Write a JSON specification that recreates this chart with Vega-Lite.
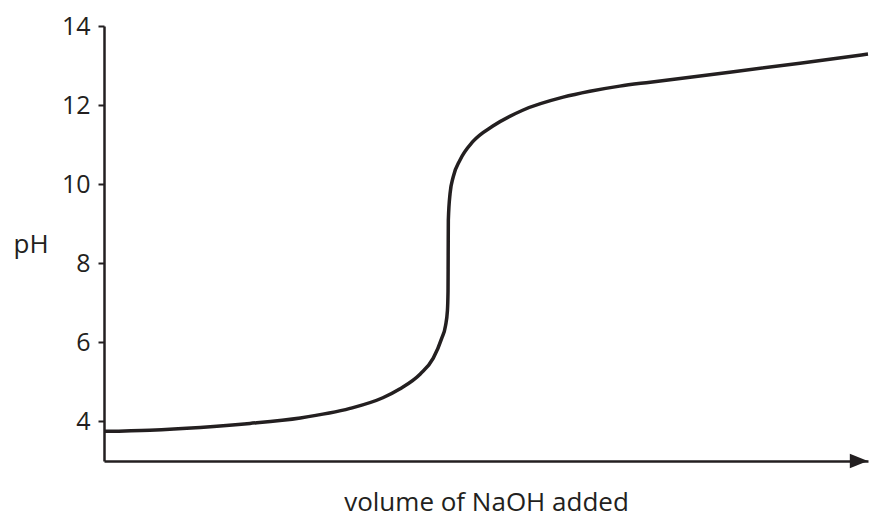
{
  "$schema": "https://vega.github.io/schema/vega-lite/v6.json",
  "width": 764,
  "height": 435,
  "autosize": {"type": "none"},
  "padding": {"left": 104, "top": 26, "right": 2, "bottom": 57},
  "background": "white",
  "config": {
    "view": {"stroke": null},
    "font": "Open Sans",
    "axis": {
      "grid": false,
      "domainColor": "#231f20",
      "domainWidth": 2.5,
      "tickColor": "#231f20",
      "tickWidth": 2,
      "labelColor": "#231f20",
      "titleColor": "#231f20",
      "labelFont": "Open Sans",
      "titleFont": "Open Sans",
      "labelFontSize": 25,
      "titleFontSize": 26,
      "titleFontWeight": "normal"
    }
  },
  "datasets": {
    "curve": [
      {"volume": 0.1, "pH": 3.75},
      {"volume": 6.0, "pH": 3.78},
      {"volume": 12.6, "pH": 3.85},
      {"volume": 19.1, "pH": 3.95},
      {"volume": 25.7, "pH": 4.09},
      {"volume": 32.2, "pH": 4.33},
      {"volume": 36.5, "pH": 4.6},
      {"volume": 38.7, "pH": 4.82},
      {"volume": 41.4, "pH": 5.2},
      {"volume": 43.1, "pH": 5.6},
      {"volume": 44.2, "pH": 6.1},
      {"volume": 44.7, "pH": 6.42},
      {"volume": 44.95, "pH": 6.8},
      {"volume": 45.03, "pH": 7.3},
      {"volume": 45.05, "pH": 8.2},
      {"volume": 45.07, "pH": 9.09},
      {"volume": 45.3, "pH": 9.77},
      {"volume": 45.7, "pH": 10.18},
      {"volume": 46.6, "pH": 10.61},
      {"volume": 48.3, "pH": 11.08},
      {"volume": 50.9, "pH": 11.47},
      {"volume": 54.8, "pH": 11.87},
      {"volume": 60.1, "pH": 12.2},
      {"volume": 63.6, "pH": 12.35},
      {"volume": 67.5, "pH": 12.48},
      {"volume": 71.5, "pH": 12.58},
      {"volume": 81.9, "pH": 12.83},
      {"volume": 91.1, "pH": 13.06},
      {"volume": 100, "pH": 13.29}
    ],
    "arrow": [{"volume": 98.8, "pH": 3}]
  },
  "layer": [
    {
      "data": {"name": "curve"},
      "mark": {"type": "line", "interpolate": "monotone", "color": "#231f20", "strokeWidth": 3.5, "clip": false},
      "encoding": {
        "x": {
          "field": "volume",
          "type": "quantitative",
          "scale": {"domain": [0, 100], "nice": false, "zero": false},
          "axis": {
            "title": "volume of NaOH added",
            "labels": false,
            "ticks": false,
            "titleBaseline": "alphabetic",
            "titleY": 49
          }
        },
        "y": {
          "field": "pH",
          "type": "quantitative",
          "scale": {"domain": [3, 14], "nice": false, "zero": false},
          "axis": {
            "title": "pH",
            "values": [4, 6, 8, 10, 12, 14],
            "tickSize": 6,
            "labelPadding": 8,
            "titleAngle": 0,
            "titleAlign": "left",
            "titleBaseline": "alphabetic",
            "titleX": -91,
            "titleY": 226
          }
        }
      }
    },
    {
      "data": {"name": "arrow"},
      "mark": {
        "type": "point",
        "shape": "M-1,-0.8L1,0L-1,0.8Z",
        "size": 324,
        "filled": true,
        "color": "#231f20",
        "opacity": 1,
        "clip": false
      },
      "encoding": {
        "x": {"field": "volume", "type": "quantitative"},
        "y": {"field": "pH", "type": "quantitative"}
      }
    }
  ]
}
